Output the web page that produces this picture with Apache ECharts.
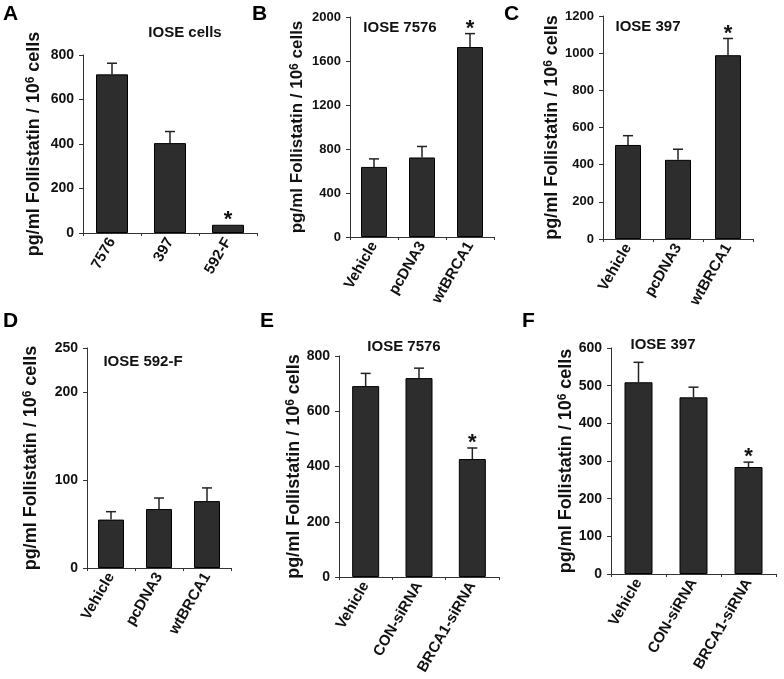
<!DOCTYPE html>
<html>
<head>
<meta charset="utf-8">
<script src="https://cdn.jsdelivr.net/npm/echarts@6/dist/echarts.min.js"></script>
<style>
html,body{margin:0;padding:0;background:#fff;}
#chart{width:784px;height:679px;}
</style>
</head>
<body>
<div id="chart"></div>
<script>
// ---- Data ----
const catsA = ['7576', '397', '592-F'];
const valsA = [713, 404, 37];
const errA = [50, 52, 0];
const starA = [0, 0, 1];

const catsB = ['Vehicle', 'pcDNA3', 'wtBRCA1'];
const valsB = [637, 723, 1727];
const errB = [73, 100, 122];
const starB = [0, 0, 1];

const catsC = ['Vehicle', 'pcDNA3', 'wtBRCA1'];
const valsC = [506, 426, 989];
const errC = [50, 57, 90];
const starC = [0, 0, 1];

const catsD = ['Vehicle', 'pcDNA3', 'wtBRCA1'];
const valsD = [55, 67, 76];
const errD = [9, 12.5, 15];
const starD = [0, 0, 0];

const catsE = ['Vehicle', 'CON-siRNA', 'BRCA1-siRNA'];
const valsE = [691, 720, 427];
const errE = [46, 36, 40];
const starE = [0, 0, 1];

const catsF = ['Vehicle', 'CON-siRNA', 'BRCA1-siRNA'];
const valsF = [509, 469, 284];
const errF = [53, 27, 13];
const starF = [0, 0, 1];

const yMax = [800, 2000, 1200, 250, 800, 600];
const yInterval = [200, 400, 200, 100, 200, 100];
const titles = ['IOSE cells', 'IOSE 7576', 'IOSE 397', 'IOSE 592-F', 'IOSE 7576', 'IOSE 397'];
const letters = ['A', 'B', 'C', 'D', 'E', 'F'];
const yName = 'pg/ml Follistatin / 10{sup|6} cells';

// ---- Layout (styles/positions) ----
const FONT = '"Liberation Sans", Arial, sans-serif';
const layout = [
  {left: 83, top: 55, width: 174, height: 178, barW: 32, gap: 40, tickFont: 14, nameFont: 18, catFont: 15, title: [185, 25], letter: [3, 4]},
  {left: 350, top: 17, width: 144, height: 220, barW: 26, gap: 44, tickFont: 13, nameFont: 17, catFont: 15, title: [400, 20], letter: [252, 4]},
  {left: 603, top: 16, width: 150, height: 223, barW: 26, gap: 35, tickFont: 13, nameFont: 18, catFont: 15, title: [648, 19], letter: [504, 4]},
  {left: 87, top: 348, width: 144, height: 220, barW: 26, gap: 47, tickFont: 14, nameFont: 18, catFont: 15, title: [143, 354], letter: [3, 311]},
  {left: 339, top: 356, width: 160, height: 221, barW: 27, gap: 36, tickFont: 14, nameFont: 18, catFont: 15, title: [404, 339], letter: [260, 311]},
  {left: 611, top: 348, width: 165, height: 226, barW: 28, gap: 32, tickFont: 14, nameFont: 18, catFont: 15, title: [663, 337], letter: [522, 311]}
];

const panels = [
  {cats: catsA, vals: valsA, err: errA, star: starA},
  {cats: catsB, vals: valsB, err: errB, star: starB},
  {cats: catsC, vals: valsC, err: errC, star: starC},
  {cats: catsD, vals: valsD, err: errD, star: starD},
  {cats: catsE, vals: valsE, err: errE, star: starE},
  {cats: catsF, vals: valsF, err: errF, star: starF}
];

const grids = [], xAxes = [], yAxes = [], series = [], graphics = [];

panels.forEach((p, i) => {
  const L = layout[i];
  grids.push({left: L.left, top: L.top, width: L.width, height: L.height});
  xAxes.push({
    type: 'category', gridIndex: i, data: p.cats,
    axisLine: {lineStyle: {color: '#333', width: 1}},
    axisTick: {show: true, length: 3, lineStyle: {color: '#333'}},
    axisLabel: {rotate: 60, margin: 6, color: '#111', fontWeight: 'bold', fontSize: L.catFont, fontFamily: FONT, interval: 0}
  });
  yAxes.push({
    type: 'value', gridIndex: i, min: 0, max: yMax[i], interval: yInterval[i],
    splitLine: {show: false},
    axisLine: {show: true, lineStyle: {color: '#333', width: 1}},
    axisTick: {show: true, length: 4, lineStyle: {color: '#333'}},
    axisLabel: {margin: 9, color: '#111', fontWeight: 'bold', fontSize: L.tickFont, fontFamily: FONT,
      formatter: v => String(v)},
    name: yName, nameLocation: 'middle', nameRotate: 90, nameGap: L.gap,
    nameTextStyle: {
      color: '#111', fontWeight: 'bold', fontSize: L.nameFont, fontFamily: FONT,
      rich: {sup: {fontSize: 12, fontWeight: 'bold', fontFamily: FONT, color: '#111', verticalAlign: 'top'}}
    }
  });
  series.push({
    type: 'bar', xAxisIndex: i, yAxisIndex: i, data: p.vals, barWidth: L.barW,
    itemStyle: {color: '#2d2d2d', borderColor: '#000', borderWidth: 1},
    silent: true, z: 2
  });
  const cdata = p.vals.map((v, k) => [k, v, p.err[k], p.star[k]]);
  series.push({
    type: 'custom', xAxisIndex: i, yAxisIndex: i, data: cdata, z: 5, silent: true,
    renderItem: function (params, api) {
      const x = api.value(0), v = api.value(1), e = api.value(2), s = api.value(3);
      const base = api.coord([x, v]);
      const top = api.coord([x, v + e]);
      const ch = [];
      if (e > 0) {
        ch.push({type: 'line', shape: {x1: base[0], y1: base[1], x2: top[0], y2: top[1]},
          style: {stroke: '#222', lineWidth: 1.5}});
        ch.push({type: 'line', shape: {x1: top[0] - 5, y1: top[1], x2: top[0] + 5, y2: top[1]},
          style: {stroke: '#222', lineWidth: 1.5}});
      }
      if (s) {
        ch.push({type: 'text', style: {text: '*', x: top[0], y: top[1] + 6, align: 'center', verticalAlign: 'bottom',
          font: 'bold 22px ' + FONT, fill: '#111'}});
      }
      return {type: 'group', children: ch};
    }
  });
  graphics.push({type: 'text', x: L.title[0], y: L.title[1],
    style: {text: titles[i], font: 'bold 15px ' + FONT, fill: '#111', align: 'center'}});
  graphics.push({type: 'text', left: L.letter[0], top: L.letter[1],
    style: {text: letters[i], font: 'bold 21px ' + FONT, fill: '#000'}});
});

const chart = echarts.init(document.getElementById('chart'), null, {renderer: 'canvas'});
chart.setOption({
  animation: false,
  backgroundColor: '#fff',
  grid: grids, xAxis: xAxes, yAxis: yAxes, series: series, graphic: graphics
});
</script>
</body>
</html>
